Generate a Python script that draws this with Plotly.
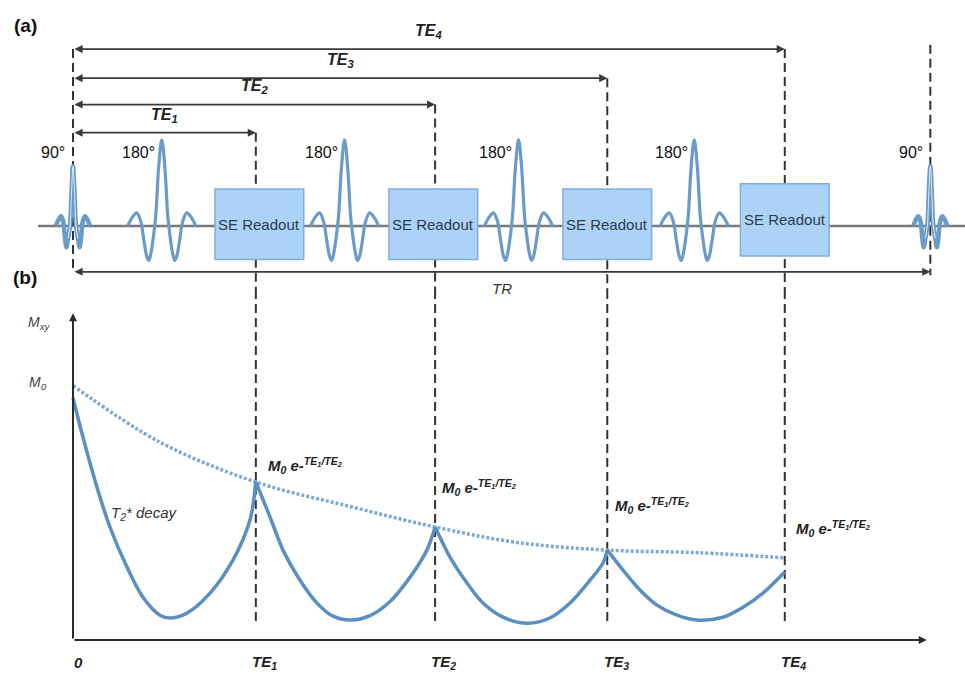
import plotly.graph_objects as go

# ---------------- data ----------------
# time axis in units where TE1 ~ 1
te = [1.03, 2.04, 3.01, 4.01]
tr = 4.83
te_names = ["TE<sub>1</sub>", "TE<sub>2</sub>", "TE<sub>3</sub>", "TE<sub>4</sub>"]

# panel (a): pulse-sequence heights (amplitude units)
bracket_level = [1.06, 1.38, 1.68, 2.01]
tr_level = -0.52
pulse180_t = [0.50, 1.53, 2.51, 3.50]
pulse90_t = [0.0, 4.83]
pulse180_label_dt = -0.13
pulse90_label_dt = -0.11
readout_center = [1.05, 2.03, 3.01, 4.01]
readout_top = [0.42, 0.42, 0.42, 0.48]
readout_bottom = [-0.38, -0.38, -0.38, -0.34]
readout_width = 0.50

# half pulse templates (offset in t, amplitude)
p180_dt = [-0.192, -0.169, -0.141, -0.118, -0.101, -0.085, -0.073, -0.062, -0.045, -0.034, -0.017, 0.0]
p180_amp = [0.0, 0.09, 0.15, 0.05, -0.16, -0.34, -0.39, -0.32, -0.09, 0.11, 0.68, 0.98]
p90_dt = [-0.096, -0.079, -0.068, -0.056, -0.045, -0.037, -0.028, -0.017, -0.008, 0.0]
p90_amp = [0.0, 0.08, 0.11, 0.06, -0.14, -0.24, -0.14, 0.0, 0.40, 0.68]

# panel (b): transverse magnetisation (M0 = 1)
seg1_t = [0.0, 0.056, 0.135, 0.208, 0.304, 0.394, 0.490, 0.546, 0.642, 0.772, 0.901, 0.997, 1.03]
seg1_m = [0.942, 0.790, 0.595, 0.440, 0.284, 0.167, 0.097, 0.086, 0.105, 0.183, 0.311, 0.467, 0.615]
seg2_t = [1.03, 1.110, 1.183, 1.279, 1.375, 1.465, 1.561, 1.673, 1.786, 1.899, 1.994, 2.04]
seg2_m = [0.615, 0.479, 0.350, 0.233, 0.144, 0.093, 0.078, 0.095, 0.150, 0.245, 0.350, 0.440]
seg3_t = [2.04, 2.124, 2.220, 2.310, 2.423, 2.558, 2.687, 2.800, 2.913, 2.986, 3.01]
seg3_m = [0.440, 0.323, 0.222, 0.144, 0.089, 0.066, 0.086, 0.144, 0.233, 0.300, 0.350]
seg4_t = [3.01, 3.099, 3.194, 3.290, 3.403, 3.515, 3.662, 3.775, 3.887, 4.01]
seg4_m = [0.350, 0.272, 0.195, 0.136, 0.097, 0.078, 0.089, 0.128, 0.183, 0.265]
env_t = [0.0, 0.49, 1.03, 1.56, 2.04, 2.50, 3.01, 3.52, 4.01]
env_m = [0.99, 0.77, 0.615, 0.52, 0.44, 0.38, 0.35, 0.34, 0.32]

echo_label_t = [1.09, 2.07, 3.04, 4.06]
echo_label_m = [0.68, 0.595, 0.525, 0.436]
dash_bottom_m = 0.07
yaxis_top_m = 1.272
xaxis_end_t = 4.81

# ---------------- layout geometry ----------------
X_RANGE = [-0.4113, 5.0254]
A_RANGE = [-0.727, 2.568]     # panel (a)
B_RANGE = [-0.128, 1.362]     # panel (b)
SPLIT = 0.5691

FONT = "Liberation Sans, Arial, sans-serif"
PULSE = "#6b9bc9"
CURVE = "#5b8fc2"
DARK = "#333333"

fig = go.Figure()

# baseline of the pulse diagram
fig.add_trace(go.Scatter(x=[-0.197, X_RANGE[1]], y=[0, 0], mode="lines",
                         line=dict(color="#7a7a7a", width=2.5), hoverinfo="skip"))

# dashed vertical lines (upper part in panel a, lower part in panel b)
for k, t in enumerate(te):
    fig.add_trace(go.Scatter(x=[t, t], y=[bracket_level[k], A_RANGE[0]], mode="lines",
                             line=dict(color=DARK, width=2, dash="9px,5px"), hoverinfo="skip"))
    fig.add_trace(go.Scatter(x=[t, t], y=[B_RANGE[1], dash_bottom_m], mode="lines", yaxis="y2",
                             line=dict(color=DARK, width=2, dash="9px,5px"), hoverinfo="skip"))
fig.add_trace(go.Scatter(x=[0, 0], y=[bracket_level[-1], tr_level], mode="lines",
                         line=dict(color=DARK, width=2, dash="9px,5px"), hoverinfo="skip"))
fig.add_trace(go.Scatter(x=[tr, tr], y=[bracket_level[-1] + 0.05, tr_level - 0.04], mode="lines",
                         line=dict(color=DARK, width=2, dash="9px,5px"), hoverinfo="skip"))

# RF pulses
full180_dt = p180_dt + [-d for d in reversed(p180_dt[:-1])]
full180_a = p180_amp + list(reversed(p180_amp[:-1]))
full90_dt = p90_dt + [-d for d in reversed(p90_dt[:-1])]
full90_a = p90_amp + list(reversed(p90_amp[:-1]))
for c in pulse180_t:
    fig.add_trace(go.Scatter(x=[c + d for d in full180_dt], y=full180_a, mode="lines",
                             line=dict(color=PULSE, width=3.2, shape="spline"), hoverinfo="skip"))
for c in pulse90_t:
    fig.add_trace(go.Scatter(x=[c + d for d in full90_dt], y=full90_a, mode="lines",
                             line=dict(color=PULSE, width=4.5, shape="spline"), hoverinfo="skip"))
    fig.add_trace(go.Scatter(x=[c + d for d in full90_dt[6:13]], y=full90_a[6:13], mode="lines",
                             line=dict(color="rgba(255,255,255,0.8)", width=1, shape="spline"),
                             hoverinfo="skip"))

# panel (b) curves
fig.add_trace(go.Scatter(x=env_t, y=env_m, mode="lines", yaxis="y2",
                         line=dict(color="#7eaad4", width=3.5, dash="3px,2px", shape="spline"),
                         hoverinfo="skip"))
for st, sm in [(seg1_t, seg1_m), (seg2_t, seg2_m), (seg3_t, seg3_m), (seg4_t, seg4_m)]:
    fig.add_trace(go.Scatter(x=st, y=sm, mode="lines", yaxis="y2",
                             line=dict(color=CURVE, width=3.5, shape="spline", smoothing=0.9),
                             hoverinfo="skip"))

# readout boxes
shapes = []
annotations = []
for c, top, bot in zip(readout_center, readout_top, readout_bottom):
    shapes.append(dict(type="rect", xref="x", yref="y", x0=c - readout_width / 2, x1=c + readout_width / 2,
                       y0=bot, y1=top, fillcolor="#acd3f7", line=dict(color="#7eaedb", width=1.5),
                       layer="above"))
    annotations.append(dict(x=c, y=(top + bot) / 2, xref="x", yref="y", text="SE Readout",
                            showarrow=False, font=dict(family=FONT, size=15, color="#2b3b4f")))

# TE brackets
for k, t in enumerate(te):
    annotations.append(dict(x=t, y=bracket_level[k], ax=0, ay=bracket_level[k], xref="x", yref="y",
                            axref="x", ayref="y", text="", showarrow=True, arrowside="end+start",
                            arrowhead=2, arrowsize=0.9, arrowwidth=1.8, arrowcolor="#3a3a3a", standoff=0,
                            startstandoff=0))
    annotations.append(dict(x=t / 2, y=bracket_level[k] + 0.2, xref="x", yref="y",
                            text="<b><i>" + te_names[k] + "</i></b>", showarrow=False,
                            font=dict(family=FONT, size=16, color="#222222")))
# TR bracket
annotations.append(dict(x=tr, y=tr_level, ax=0, ay=tr_level, xref="x", yref="y", axref="x", ayref="y",
                        text="", showarrow=True, arrowside="end+start", arrowhead=2, arrowsize=0.9,
                        arrowwidth=1.8, arrowcolor="#3a3a3a", standoff=0, startstandoff=0))
annotations.append(dict(x=tr / 2, y=tr_level - 0.19, xref="x", yref="y", text="<i>TR</i>",
                        showarrow=False, font=dict(family=FONT, size=15, color="#333333")))

# pulse labels
for c in pulse180_t:
    annotations.append(dict(x=c + pulse180_label_dt, y=0.83, xref="x", yref="y", text="180°",
                            showarrow=False, font=dict(family=FONT, size=16, color="#111111")))
for c in pulse90_t:
    annotations.append(dict(x=c + pulse90_label_dt, y=0.83, xref="x", yref="y", text="90°",
                            showarrow=False, font=dict(family=FONT, size=16, color="#111111")))

# panel labels
annotations.append(dict(x=-0.27, y=2.28, xref="x", yref="y", text="<b>(a)</b>", showarrow=False,
                        font=dict(family=FONT, size=19, color="#111111")))
annotations.append(dict(x=-0.27, y=-0.58, xref="x", yref="y", text="<b>(b)</b>", showarrow=False,
                        font=dict(family=FONT, size=19, color="#111111")))

# panel (b) axes
annotations.append(dict(x=0, y=yaxis_top_m, ax=0, ay=0, xref="x", yref="y2", axref="x", ayref="y2",
                        text="", showarrow=True, arrowhead=2, arrowsize=0.8, arrowwidth=2,
                        arrowcolor="#2a2a2a", standoff=0))
annotations.append(dict(x=xaxis_end_t, y=0, ax=0, ay=0, xref="x", yref="y2", axref="x", ayref="y2",
                        text="", showarrow=True, arrowhead=2, arrowsize=0.8, arrowwidth=2,
                        arrowcolor="#2a2a2a", standoff=0))

# panel (b) tick labels
annotations.append(dict(x=0.03, y=-0.086, xref="x", yref="y2", text="<b><i>0</i></b>", showarrow=False,
                        font=dict(family=FONT, size=15, color="#222222")))
for k, t in enumerate(te):
    annotations.append(dict(x=t + 0.05, y=-0.088, xref="x", yref="y2", text="<b><i>" + te_names[k] + "</i></b>",
                            showarrow=False, font=dict(family=FONT, size=15, color="#222222")))

annotations.append(dict(x=-0.186, y=1.233, xref="x", yref="y2", text="<i>M<sub>xy</sub></i>",
                        showarrow=False, font=dict(family=FONT, size=14, color="#444444")))
annotations.append(dict(x=-0.197, y=1.0, xref="x", yref="y2", text="<i>M<sub>0</sub></i>",
                        showarrow=False, font=dict(family=FONT, size=14, color="#444444")))
annotations.append(dict(x=0.40, y=0.494, xref="x", yref="y2", text="<i>T<sub>2</sub>* decay</i>",
                        showarrow=False, font=dict(family=FONT, size=15, color="#333333")))
for tt, mm in zip(echo_label_t, echo_label_m):
    annotations.append(dict(x=tt, y=mm, xref="x", yref="y2", xanchor="left",
                            text="<b><i>M<sub>0</sub> e-<sup>TE<sub>1</sub>/TE<sub>2</sub></sup></i></b>",
                            showarrow=False, font=dict(family=FONT, size=15, color="#222222")))

fig.update_layout(
    width=965, height=673, margin=dict(l=0, r=0, t=0, b=0, pad=0),
    paper_bgcolor="white", plot_bgcolor="white", showlegend=False,
    xaxis=dict(range=X_RANGE, visible=False, fixedrange=True),
    yaxis=dict(range=A_RANGE, domain=[SPLIT, 1], visible=False, fixedrange=True),
    yaxis2=dict(range=B_RANGE, domain=[0, SPLIT], visible=False, fixedrange=True, anchor="x"),
    shapes=shapes, annotations=annotations,
)

fig.write_html("out.html", config={"displayModeBar": False})

# remove the browser's default page margin so the figure sits at the window's corner
with open("out.html", encoding="utf-8") as f:
    html = f.read()
html = html.replace("<head>", "<head><style>html,body{margin:0;padding:0;}</style>", 1)
with open("out.html", "w", encoding="utf-8") as f:
    f.write(html)
